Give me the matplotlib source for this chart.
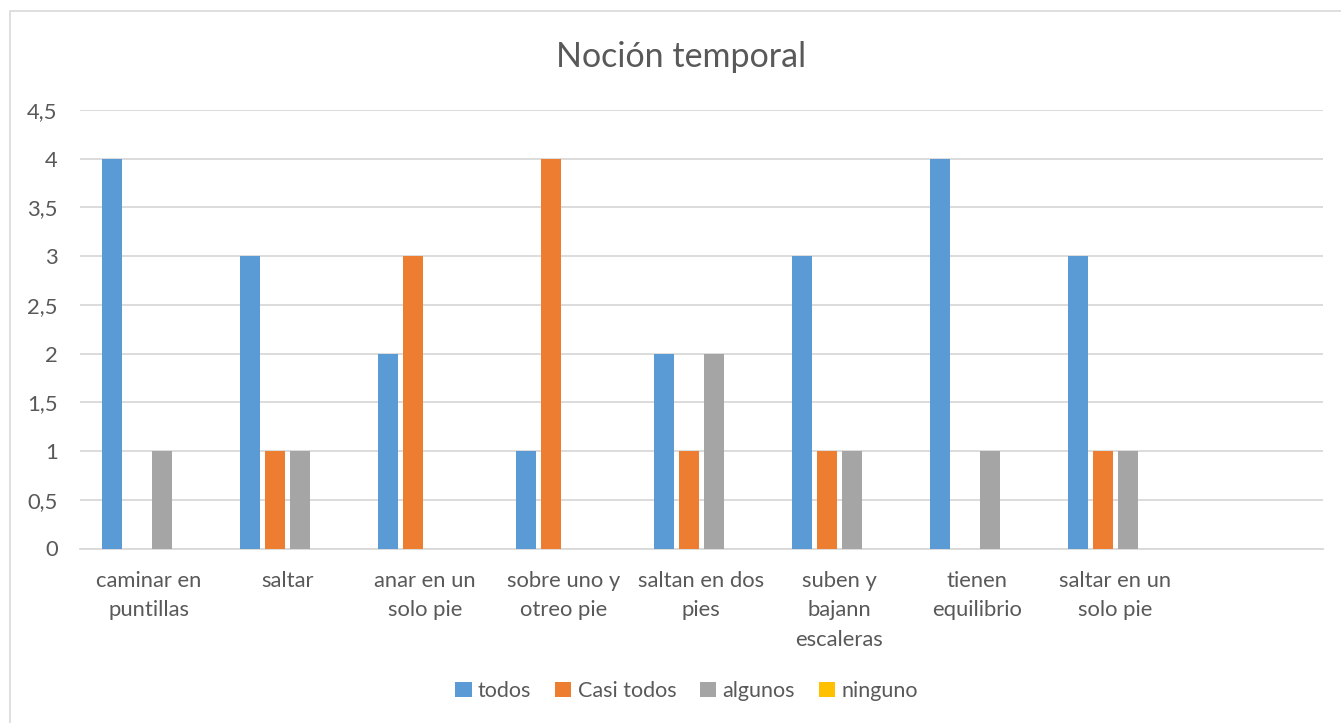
import numpy as np
import matplotlib
matplotlib.use("Agg")
import matplotlib.pyplot as plt
from matplotlib.patches import Rectangle

categories = [
    "caminar en\npuntillas",
    "saltar",
    "anar en un\nsolo pie",
    "sobre uno y\notreo pie",
    "saltan en dos\npies",
    "suben y\nbajann\nescaleras",
    "tienen\nequilibrio",
    "saltar en un\nsolo pie",
    "",
]
series_names = ["todos", "Casi todos", "algunos", "ninguno"]
todos = [4, 3, 2, 1, 2, 3, 4, 3, 0]
casi_todos = [0, 1, 3, 4, 1, 1, 0, 1, 0]
algunos = [1, 1, 0, 0, 2, 1, 1, 1, 0]
ninguno = [0, 0, 0, 0, 0, 0, 0, 0, 0]
colors = ["#5B9BD5", "#ED7D31", "#A5A5A5", "#FFC000"]

TEXT = "#595959"
GRID = "#D9D9D9"
plt.rcParams["font.family"] = ["Lato", "DejaVu Sans"]

fig = plt.figure(figsize=(13.41, 7.23), dpi=100)
ax = fig.add_axes([80 / 1341, 1 - 548.5 / 723, 1242.6 / 1341, 438.5 / 723])

# chart frame
fig.patches.append(Rectangle((10 / 1341, -0.05), 1.2, 1 - 11 / 723 + 0.05,
                             transform=fig.transFigure, fill=False,
                             edgecolor=GRID, linewidth=1.2))

x = np.arange(len(categories))
pitch = 25 / 138.07
width = 20 / 138.07
for i, (name, vals) in enumerate(zip(series_names, [todos, casi_todos, algunos, ninguno])):
    ax.bar(x + (i - 1.5) * pitch, vals, width=width, color=colors[i],
           linewidth=0, label=name, zorder=3)

ax.set_xlim(-0.5, len(categories) - 0.5)
ax.set_ylim(0, 4.5)
yt = np.arange(0, 4.51, 0.5)
ax.set_yticks(yt)
ax.set_yticklabels([f"{v:g}".replace(".", ",") for v in yt])
ax.set_xticks(x)
ax.set_xticklabels(categories, linespacing=1.6)
ax.grid(axis="y", color=GRID, linewidth=1.3, zorder=0)
ax.tick_params(axis="both", length=0, labelsize=15.8, colors=TEXT)
ax.tick_params(axis="y", pad=16)
ax.tick_params(axis="x", pad=16)
for s in ["top", "right", "left"]:
    ax.spines[s].set_visible(False)
ax.spines["bottom"].set_color(GRID)
ax.spines["bottom"].set_linewidth(1.3)

fig.text(0.508, 1 - 57 / 723, "Noción temporal", ha="center", va="center",
         fontsize=24.5, color=TEXT)

fig.legend(loc="center", bbox_to_anchor=(0.512, 1 - 691 / 723), ncol=4,
           frameon=False, fontsize=15.5, labelcolor=TEXT, handlelength=0.75,
           handleheight=0.75, handletextpad=0.3, columnspacing=1.1)

fig.savefig("out.png", dpi=100)
